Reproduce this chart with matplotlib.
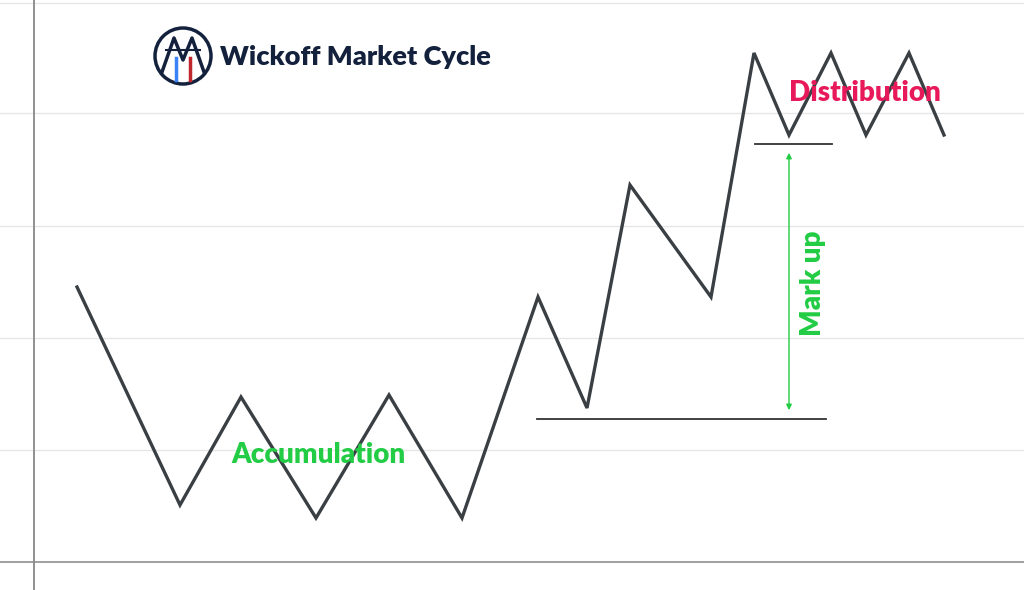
import matplotlib.pyplot as plt
from matplotlib.patches import Circle

# price path (pixel-like coordinates, y downward)
path_x = [77, 180, 241, 316, 389, 462, 538, 587, 630, 711, 754, 789, 831, 866, 909, 944]
path_y = [287, 505, 397, 518, 395, 518, 297, 408, 185, 297, 53, 135, 53, 135, 53, 135]
grid_y = [3, 113, 226, 338, 450]
labels = ['Accumulation', 'Mark up', 'Distribution']

fig = plt.figure(figsize=(10.24, 5.9), dpi=100)
ax = fig.add_axes([0, 0, 1, 1])
ax.set_xlim(0, 1024)
ax.set_ylim(590, 0)
ax.axis('off')

for gy in grid_y:
    ax.axhline(gy, color='#e6e6e6', lw=1, zorder=0)
ax.axhline(562, color='#999999', lw=1.3)
ax.axvline(34, color='#888888', lw=1.3)

ax.plot(path_x, path_y, color='#3a3f44', lw=2.4, solid_joinstyle='miter')
ax.plot([537, 826], [419, 419], color='#333333', lw=1.3)
ax.plot([755, 832], [144, 144], color='#333333', lw=1.3)
ax.annotate('', xy=(789, 150), xytext=(789, 413),
            arrowprops=dict(arrowstyle='<|-|>', color='#22cc44', lw=1, mutation_scale=8))

green = '#22cc44'
ax.text(318, 455, labels[0], color=green, fontsize=20, fontweight='heavy',
        family='Lato', ha='center', va='center')
ax.text(813, 283, labels[1], color=green, fontsize=20, fontweight='heavy',
        family='Lato', ha='center', va='center', rotation=90)
ax.text(865, 93, labels[2], color='#e8195a', fontsize=20, fontweight='heavy',
        family='Lato', ha='center', va='center')

# logo
navy = '#14213d'
ax.add_patch(Circle((183, 56), 28, fill=False, ec=navy, lw=2.5))
ax.plot([162, 174, 183, 192, 204], [72, 38, 60, 38, 72], color=navy, lw=2.5)
ax.plot([166, 200], [50, 50], color=navy, lw=1.5)
ax.plot([176, 176], [58, 80], color='#3b82f6', lw=2.5)
ax.plot([190, 190], [58, 80], color='#c0262d', lw=2.5)
ax.text(220, 57, 'Wickoff Market Cycle', color=navy, fontsize=19.5,
        fontweight='heavy', family='Lato', va='center')

fig.savefig('out.png', dpi=100)
